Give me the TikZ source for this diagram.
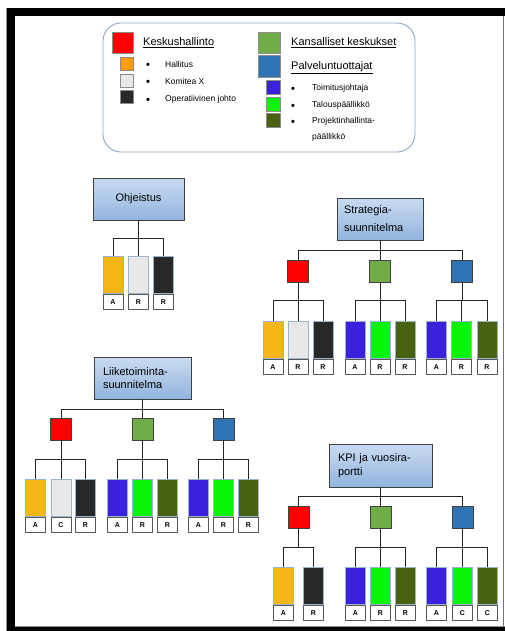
\documentclass[tikz,border=0pt]{standalone}
\usepackage{fontspec}
\setmainfont{Liberation Sans}
\definecolor{cRed}{HTML}{FF0000}
\definecolor{cOrange}{HTML}{F5B618}
\definecolor{cOrangeL}{HTML}{FF9A0A}
\definecolor{cLight}{HTML}{E8E8E8}
\definecolor{cDark}{HTML}{282828}
\definecolor{cGreen}{HTML}{70AD47}
\definecolor{cBlue}{HTML}{2E74B5}
\definecolor{cIndigo}{HTML}{3A22DC}
\definecolor{cLime}{HTML}{08F508}
\definecolor{cOlive}{HTML}{48620F}
\definecolor{boxtop}{HTML}{C9DBF2}
\definecolor{boxbot}{HTML}{92B4DE}
\definecolor{barline}{HTML}{9DB3CC}
\definecolor{legline}{HTML}{8FA6C2}
\tikzset{
  conn/.style={draw=black!85, line width=1pt},
  planbox/.style={draw=black!75, line width=0.8pt, top color=boxtop, bottom color=boxbot,
    font=\fontsize{11}{13}\selectfont, inner sep=0pt},
  sq/.style={draw=black!75, line width=0.8pt, minimum width=21pt, minimum height=22pt, inner sep=0pt},
  lsq/.style={draw=black!45, line width=0.6pt, inner sep=0pt},
  barbox/.style={draw=barline, line width=0.8pt, minimum width=20pt, minimum height=37pt, inner sep=0pt, anchor=north},
  lblbox/.style={draw=black!65, fill=white, line width=0.8pt, minimum width=20pt, minimum height=15pt,
    inner sep=0pt, font=\bfseries\fontsize{7}{8}\selectfont, anchor=north},
  head/.style={anchor=west, inner sep=0pt, font=\fontsize{11}{13}\selectfont},
  small/.style={anchor=west, inner sep=0pt, font=\fontsize{8.5}{10}\selectfont},
  bul/.style={inner sep=0pt, font=\bfseries\fontsize{11}{12}\selectfont},
}
% #1 name, #2 x centre, #3 top, #4 colour, #5 letter, #6 junction
\newcommand\rbar[6]{%
  \node[barbox, fill=#4] (#1) at (#2,#3) {};
  \node[lblbox] (#1l) at (#1.south) {#5};
  \draw[conn] (#1.north) |- (#6);
}
\begin{document}
\begin{tikzpicture}[x=1pt,y=-1pt]
\useasboundingbox (0,0) rectangle (505,631);
% frame
\fill[black] (6,8) rectangle (505,631);
\fill[white] (15,16) rectangle (505,627);
\draw[black!55, line width=0.8pt] (503.5,16) -- (503.5,627);
\draw[black!45, line width=0.6pt] (6.3,8) -- (6.3,631);
\draw[black!45, line width=0.6pt] (15,626.5) -- (505,626.5);

% legend
\node[draw=legline, line width=0.9pt, rounded corners=18pt, minimum width=312pt, minimum height=129pt, inner sep=0pt] (legend) at (259,87.5) {};
\node[lsq, fill=cRed, minimum width=21pt, minimum height=21pt] (lgred) at (122.5,42.5) {};
\node[lsq, fill=cOrangeL, minimum width=13pt, minimum height=13pt] (lgor) at (126.5,63.5) {};
\node[lsq, fill=cLight, minimum width=13pt, minimum height=13pt] (lglt) at (126.5,80.5) {};
\node[lsq, fill=cDark, minimum width=13pt, minimum height=13pt] (lgdk) at (126.5,96.5) {};
\node[lsq, fill=cGreen, minimum width=22pt, minimum height=21pt] (lggr) at (269,42.5) {};
\node[lsq, fill=cBlue, minimum width=22pt, minimum height=22pt] (lgbl) at (269,66) {};
\node[lsq, fill=cIndigo, minimum width=14pt, minimum height=14pt] (lgin) at (273,87) {};
\node[lsq, fill=cLime, minimum width=14pt, minimum height=14pt] (lgli) at (273,104) {};
\node[lsq, fill=cOlive, minimum width=14pt, minimum height=14pt] (lgol) at (273,120) {};

\node[head] (tk) at (143,43) {\underline{Keskushallinto}};
\node[head] (tka) at (291,43) {\underline{Kansalliset keskukset}};
\node[head] (tp) at (291,68) {\underline{Palveluntuottajat}};
\node[bul] (b1) at (148,65.5) {•};
\node[bul] (b2) at (148,82.5) {•};
\node[bul] (b3) at (148,100.5) {•};
\node[small] (t1) at (165,64) {Hallitus};
\node[small] (t2) at (165,81) {Komitea X};
\node[small] (t3) at (165,99) {Operatiivinen johto};
\node[bul] (b4) at (293,89.5) {•};
\node[bul] (b5) at (293,106.5) {•};
\node[bul] (b6) at (293,122.5) {•};
\node[small] (t4) at (312,88) {Toimitusjohtaja};
\node[small] (t5) at (312,105) {Talouspäällikkö};
\node[small] (t6) at (312,121) {Projektinhallinta-};
\node[small] (t7) at (312,137) {päällikkö};

% ---------- Ohjeistus ----------
\node[planbox, minimum width=91pt, minimum height=42pt] (oh) at (138.5,199) {Ohjeistus};
\coordinate (ohj) at (138.5,238);
\draw[conn] (oh.south) -- (ohj);
\rbar{oh1}{113}{256}{cOrange}{A}{ohj}
\rbar{oh2}{138.5}{256}{cLight}{R}{ohj}
\rbar{oh3}{163.5}{256}{cDark}{R}{ohj}

% ---------- Strategia ----------
\node[planbox, minimum width=86pt, minimum height=42pt, text width=72pt, align=left,
  font=\fontsize{11}{18}\selectfont] (st) at (380,219) {Strategia-\\suunnitelma};
\coordinate (stj) at (380,250);
\draw[conn] (st.south) -- (stj);
\node[sq, fill=cRed] (str) at (298,271) {};
\node[sq, fill=cGreen] (stg) at (380,271) {};
\node[sq, fill=cBlue] (stb) at (462,271) {};
\draw[conn] (str.north) |- (stj);
\draw[conn] (stg.north) -- (stj);
\draw[conn] (stb.north) |- (stj);
\coordinate (strj) at (298,300);
\coordinate (stgj) at (380,300);
\coordinate (stbj) at (462,300);
\draw[conn] (str.south) -- (strj);
\draw[conn] (stg.south) -- (stgj);
\draw[conn] (stb.south) -- (stbj);
\rbar{s1}{273}{321}{cOrange}{A}{strj}
\rbar{s2}{298}{321}{cLight}{R}{strj}
\rbar{s3}{323}{321}{cDark}{R}{strj}
\rbar{s4}{355}{321}{cIndigo}{A}{stgj}
\rbar{s5}{380}{321}{cLime}{R}{stgj}
\rbar{s6}{405}{321}{cOlive}{R}{stgj}
\rbar{s7}{436.5}{321}{cIndigo}{A}{stbj}
\rbar{s8}{461.5}{321}{cLime}{R}{stbj}
\rbar{s9}{487}{321}{cOlive}{R}{stbj}

% ---------- Liiketoiminta ----------
\node[planbox, minimum width=97pt, minimum height=42pt, text width=79pt, align=left,
  font=\fontsize{11}{13}\selectfont] (lt) at (142.5,378) {Liiketoiminta-\\suunnitelma};
\coordinate (ltj) at (142.5,409);
\draw[conn] (lt.south) -- (ltj);
\node[sq, fill=cRed] (ltr) at (61,429) {};
\node[sq, fill=cGreen] (ltg) at (142.5,429) {};
\node[sq, fill=cBlue] (ltb) at (223.5,429) {};
\draw[conn] (ltr.north) |- (ltj);
\draw[conn] (ltg.north) -- (ltj);
\draw[conn] (ltb.north) |- (ltj);
\coordinate (ltrj) at (61,459);
\coordinate (ltgj) at (142.5,459);
\coordinate (ltbj) at (223.5,459);
\draw[conn] (ltr.south) -- (ltrj);
\draw[conn] (ltg.south) -- (ltgj);
\draw[conn] (ltb.south) -- (ltbj);
\rbar{l1}{35.5}{479}{cOrange}{A}{ltrj}
\rbar{l2}{61}{479}{cLight}{C}{ltrj}
\rbar{l3}{85.5}{479}{cDark}{R}{ltrj}
\rbar{l4}{117.5}{479}{cIndigo}{A}{ltgj}
\rbar{l5}{142.5}{479}{cLime}{R}{ltgj}
\rbar{l6}{167.5}{479}{cOlive}{R}{ltgj}
\rbar{l7}{198.5}{479}{cIndigo}{A}{ltbj}
\rbar{l8}{223.5}{479}{cLime}{R}{ltbj}
\rbar{l9}{248.5}{479}{cOlive}{R}{ltbj}

% ---------- KPI ----------
\node[planbox, minimum width=103pt, minimum height=43pt, text width=85pt, align=left,
  font=\fontsize{11}{14}\selectfont] (kp) at (380.5,465.5) {KPI ja vuosira-\\portti};
\coordinate (kpj) at (380.5,496);
\draw[conn] (kp.south) -- (kpj);
\node[sq, fill=cRed] (kpr) at (298.5,517.5) {};
\node[sq, fill=cGreen] (kpg) at (380.5,517.5) {};
\node[sq, fill=cBlue] (kpb) at (462.5,517.5) {};
\draw[conn] (kpr.north) |- (kpj);
\draw[conn] (kpg.north) -- (kpj);
\draw[conn] (kpb.north) |- (kpj);
\coordinate (kprj) at (298.5,547);
\coordinate (kpgj) at (380.5,547);
\coordinate (kpbj) at (462.5,547);
\draw[conn] (kpr.south) -- (kprj);
\draw[conn] (kpg.south) -- (kpgj);
\draw[conn] (kpb.south) -- (kpbj);
\rbar{k1}{283.5}{567}{cOrange}{A}{kprj}
\rbar{k2}{313.5}{567}{cDark}{R}{kprj}
\rbar{k3}{355.5}{567}{cIndigo}{A}{kpgj}
\rbar{k4}{380.5}{567}{cLime}{R}{kpgj}
\rbar{k5}{405.5}{567}{cOlive}{R}{kpgj}
\rbar{k6}{436.5}{567}{cIndigo}{A}{kpbj}
\rbar{k7}{462.5}{567}{cLime}{C}{kpbj}
\rbar{k8}{487.5}{567}{cOlive}{C}{kpbj}
\end{tikzpicture}
\end{document}
